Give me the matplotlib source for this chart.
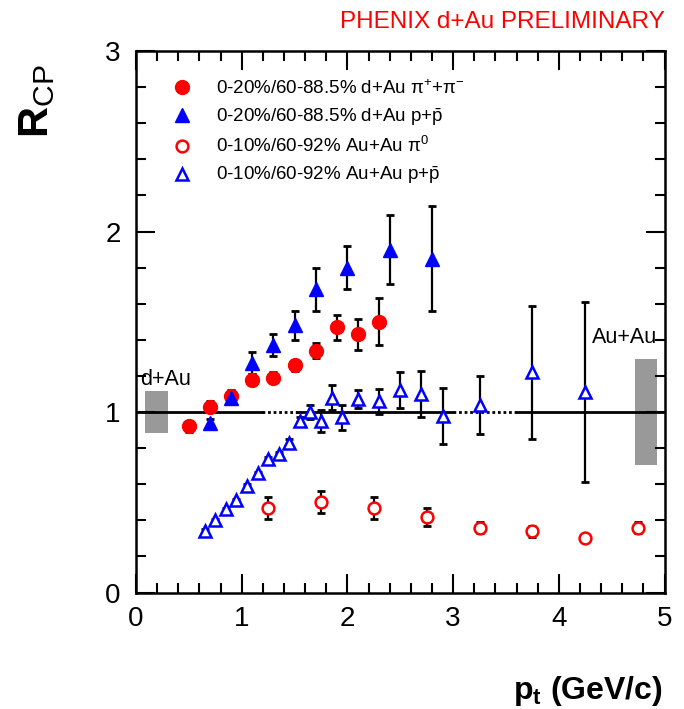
import matplotlib
matplotlib.use("Agg")
import matplotlib.pyplot as plt
from matplotlib.lines import Line2D
from matplotlib.ticker import MultipleLocator

plt.rcParams["font.family"] = ["Liberation Sans", "DejaVu Sans"]
plt.rcParams["mathtext.fontset"] = "custom"
plt.rcParams["mathtext.rm"] = "Liberation Sans"
plt.rcParams["mathtext.bf"] = "Liberation Sans:bold"
plt.rcParams["mathtext.it"] = "Liberation Sans:italic"

# d+Au pi+ + pi- (0-20%/60-88.5%)
pt_dau_pi = [0.5, 0.7, 0.9, 1.1, 1.3, 1.5, 1.7, 1.9, 2.1, 2.3]
rcp_dau_pi = [0.92, 1.03, 1.09, 1.18, 1.19, 1.26, 1.34, 1.47, 1.43, 1.50]
err_dau_pi = [0.03, 0.03, 0.03, 0.03, 0.03, 0.03, 0.04, 0.07, 0.085, 0.13]

# d+Au p + pbar (0-20%/60-88.5%)
pt_dau_p = [0.7, 0.9, 1.1, 1.3, 1.5, 1.7, 2.0, 2.4, 2.8]
rcp_dau_p = [0.94, 1.08, 1.27, 1.37, 1.48, 1.68, 1.80, 1.90, 1.85]
err_dau_p = [0.02, 0.03, 0.06, 0.06, 0.08, 0.12, 0.12, 0.19, 0.29]

# Au+Au pi0 (0-10%/60-92%)
pt_auau_pi0 = [1.25, 1.75, 2.25, 2.75, 3.25, 3.75, 4.25, 4.75]
rcp_auau_pi0 = [0.47, 0.50, 0.47, 0.42, 0.36, 0.34, 0.30, 0.36]
err_auau_pi0 = [0.06, 0.06, 0.06, 0.05, 0.03, 0.03, 0.02, 0.03]

# Au+Au p + pbar (0-10%/60-92%)
pt_auau_p = [0.65, 0.75, 0.85, 0.95, 1.05, 1.15, 1.25, 1.35, 1.45, 1.55, 1.65,
             1.75, 1.85, 1.95, 2.1, 2.3, 2.5, 2.7, 2.9, 3.25, 3.75, 4.25]
rcp_auau_p = [0.34, 0.40, 0.46, 0.51, 0.59, 0.66, 0.74, 0.77, 0.83, 0.95, 1.00,
              0.95, 1.08, 0.97, 1.07, 1.06, 1.12, 1.10, 0.98, 1.04, 1.22, 1.11]
err_auau_p = [0.01, 0.01, 0.01, 0.01, 0.01, 0.01, 0.01, 0.01, 0.02, 0.02, 0.04,
              0.06, 0.07, 0.07, 0.05, 0.07, 0.10, 0.13, 0.155, 0.16, 0.37, 0.50]

# normalisation boxes (x range, half height)
box_dau_x = [0.09, 0.30]
box_dau_err = 0.115
box_auau_x = [4.72, 4.93]
box_auau_err = 0.295

# reference line at 1: solid / dotted pieces
line_solid = [(0.0, 1.19), (1.52, 3.0), (3.6, 5.0)]
line_dotted = [(1.19, 1.52), (3.0, 3.6)]

labels = [
    r"0-20%/60-88.5% d+Au π$^{+}$+π$^{-}$",
    r"0-20%/60-88.5% d+Au p+$\bar{\mathrm{p}}$",
    r"0-10%/60-92% Au+Au π$^{0}$",
    r"0-10%/60-92% Au+Au p+$\bar{\mathrm{p}}$",
]

fig = plt.figure(figsize=(6.84, 7.09), dpi=100)
ax = fig.add_axes([0.1988, 0.1643, 0.7727, 0.7637])

# boxes
ax.fill_between(box_dau_x, 1 - box_dau_err, 1 + box_dau_err, color="#999999", lw=0, zorder=1)
ax.fill_between(box_auau_x, 1 - box_auau_err, 1 + box_auau_err, color="#999999", lw=0, zorder=1)

for x0, x1 in line_solid:
    ax.plot([x0, x1], [1, 1], color="black", lw=2, zorder=2)
for x0, x1 in line_dotted:
    ax.plot([x0, x1], [1, 1], color="black", lw=2, ls=(0, (1, 1)), zorder=2)

eb_kw = dict(fmt="none", ecolor="black", elinewidth=1.6, capsize=3, capthick=2, zorder=3)
ax.errorbar(pt_dau_pi, rcp_dau_pi, yerr=err_dau_pi, **eb_kw)
ax.errorbar(pt_dau_p, rcp_dau_p, yerr=err_dau_p, **eb_kw)
ax.errorbar(pt_auau_pi0, rcp_auau_pi0, yerr=err_auau_pi0, **eb_kw)
ax.errorbar(pt_auau_p, rcp_auau_p, yerr=err_auau_p, **eb_kw)

ax.plot(pt_dau_pi, rcp_dau_pi, "o", color="red", ms=10, mec="red", ls="none", zorder=4)
ax.plot(pt_dau_p, rcp_dau_p, "^", color="blue", ms=10, mec="blue", ls="none", zorder=4)
ax.plot(pt_auau_pi0, rcp_auau_pi0, "o", mfc="white", mec="red", mew=1.8, ms=8.5, ls="none", zorder=4)
ax.plot(pt_auau_p, rcp_auau_p, "^", mfc="white", mec="blue", mew=1.8, ms=9, ls="none", zorder=4)

handles = [
    Line2D([], [], marker="o", color="red", ms=10, ls="none"),
    Line2D([], [], marker="^", color="blue", ms=10, ls="none"),
    Line2D([], [], marker="o", mfc="white", mec="red", mew=1.8, ms=8.5, ls="none"),
    Line2D([], [], marker="^", mfc="white", mec="blue", mew=1.8, ms=9, ls="none"),
]
ax.legend(handles, labels, loc="upper left", bbox_to_anchor=(0.055, 0.962),
          frameon=False, fontsize=13.5, handlelength=1.0, handletextpad=1.3,
          labelspacing=0.45, borderaxespad=0)

ax.text(0.04, 1.18, "d+Au", fontsize=15.5, ha="left", va="center", zorder=5)
ax.text(4.93, 1.415, "Au+Au", fontsize=15.5, ha="right", va="center", zorder=5)

ax.set_xlim(0, 5)
ax.set_ylim(0, 3)
ax.xaxis.set_major_locator(MultipleLocator(1))
ax.xaxis.set_minor_locator(MultipleLocator(0.2))
ax.yaxis.set_major_locator(MultipleLocator(1))
ax.yaxis.set_minor_locator(MultipleLocator(0.2))
ax.tick_params(which="both", direction="in", top=True, right=True, width=1.5, labelsize=20)
ax.tick_params(which="major", length=14)
ax.tick_params(which="minor", length=7)
ax.tick_params(axis="x", pad=10)
ax.tick_params(axis="y", pad=11)
for s in ax.spines.values():
    s.set_linewidth(1.8)

fig.text(0.972, 0.969, "PHENIX d+Au PRELIMINARY", color="red", fontsize=17.5,
         ha="right", va="center")
fig.text(0.054, 0.858, r"$\mathbf{R}_{\mathrm{CP}}$", fontsize=31, rotation=90,
         ha="center", va="center")
fig.text(0.969, 0.0141, r"$\mathbf{p}_{\mathbf{t}}$ (GeV/c)", fontsize=23,
         fontweight="bold", ha="right", va="baseline")

fig.savefig("out.png", dpi=100)
